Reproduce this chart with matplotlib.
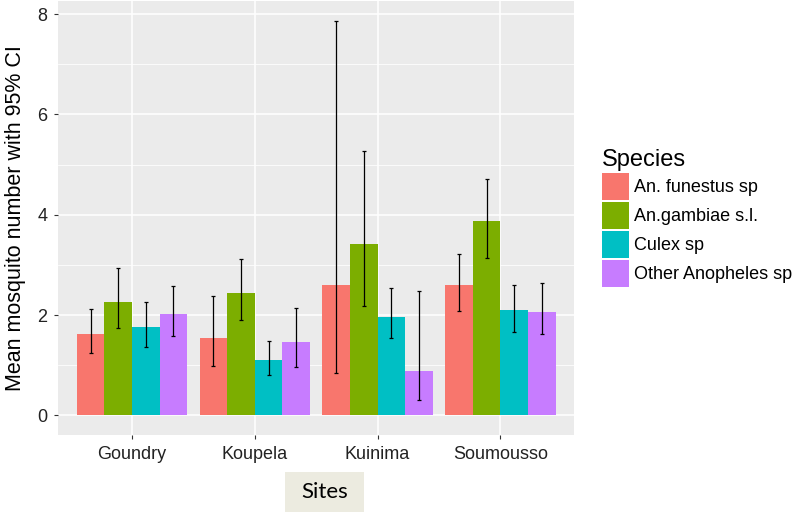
import numpy as np
import matplotlib
matplotlib.use("Agg")
import matplotlib.pyplot as plt
from matplotlib.patches import Rectangle

# values
sites = ["Goundry", "Koupela", "Kuinima", "Soumousso"]
species = ["An. funestus sp", "An.gambiae s.l.", "Culex sp", "Other Anopheles sp"]
colors = ["#F8766D", "#7CAE00", "#00BFC4", "#C77CFF"]

mean_funestus = [1.63, 1.55, 2.60, 2.60]
low_funestus = [1.24, 0.99, 0.85, 2.09]
high_funestus = [2.12, 2.39, 7.87, 3.21]

mean_gambiae = [2.27, 2.45, 3.42, 3.87]
low_gambiae = [1.74, 1.91, 2.19, 3.13]
high_gambiae = [2.94, 3.11, 5.27, 4.72]

mean_culex = [1.77, 1.11, 1.97, 2.10]
low_culex = [1.36, 0.80, 1.54, 1.66]
high_culex = [2.27, 1.49, 2.53, 2.59]

mean_other = [2.03, 1.46, 0.88, 2.07]
low_other = [1.59, 0.97, 0.31, 1.62]
high_other = [2.57, 2.14, 2.49, 2.64]

means = [mean_funestus, mean_gambiae, mean_culex, mean_other]
lows = [low_funestus, low_gambiae, low_culex, low_other]
highs = [high_funestus, high_gambiae, high_culex, high_other]

plt.rcParams["font.family"] = ["Liberation Sans", "DejaVu Sans"]

fig = plt.figure(figsize=(7.97, 5.13), dpi=100)
ax = fig.add_axes([58.3 / 797, 1 - 435 / 513, (574 - 58.3) / 797, (435 - 1) / 513])
ax.set_facecolor("#EBEBEB")

x = np.arange(1, len(sites) + 1)
bw = 0.9 / len(species)
for i, sp in enumerate(species):
    xs = x + (i - 1.5) * bw
    m = np.array(means[i])
    lo = m - np.array(lows[i])
    hi = np.array(highs[i]) - m
    ax.bar(xs, m, width=bw, color=colors[i], label=sp, zorder=2)
    ax.errorbar(xs, m, yerr=[lo, hi], fmt="none", ecolor="black",
                elinewidth=0.9, capsize=1.3, capthick=0.9, zorder=3)

ax.set_xlim(0.4, 4.6)
ax.set_ylim(-0.39, 8.26)
ax.set_xticks(x)
ax.set_xticklabels(sites)
ax.set_yticks([0, 2, 4, 6, 8])
ax.set_yticks([1, 3, 5, 7], minor=True)
ax.grid(which="major", color="white", linewidth=1.1, zorder=0)
ax.grid(which="minor", axis="y", color="white", linewidth=0.55, zorder=0)
ax.set_axisbelow(True)
for s in ax.spines.values():
    s.set_visible(False)
ax.tick_params(which="major", length=3, width=0.8, color="#333333",
               labelsize=13, labelcolor="#222222", pad=5)
ax.tick_params(which="minor", length=0)

ax.set_ylabel("Mean mosquito number with 95% CI", fontsize=15.5, labelpad=8)

leg = ax.legend(title="Species", loc="upper left",
                bbox_to_anchor=(602 / 797, 1 - 149 / 513),
                bbox_transform=fig.transFigure, frameon=False,
                fontsize=13, title_fontsize=17, handlelength=1.5,
                handleheight=1.9, labelspacing=0.12, handletextpad=0.3,
                borderpad=0, borderaxespad=0, alignment="left")

# "Sites" label box under the axis
fig.patches.append(Rectangle((285 / 797, 1 - 512 / 513), 79 / 797, 40 / 513,
                             transform=fig.transFigure, facecolor="#ECEBE0",
                             edgecolor="none"))
fig.text(324.5 / 797, 1 - 492 / 513, "Sites", ha="center", va="center",
         fontsize=16, family=["Lato", "DejaVu Sans"], color="black")

plt.savefig("out.png", dpi=100)
